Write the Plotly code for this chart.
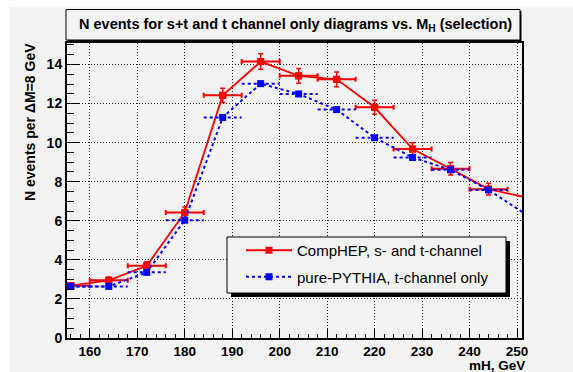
import plotly.graph_objects as go

# ---- data ----
mass = [156, 164, 172, 180, 188, 196, 204, 212, 220, 228, 236, 244, 252]
comphep = [2.68, 2.95, 3.70, 6.42, 12.42, 14.15, 13.42, 13.24, 11.81, 9.67, 8.66, 7.62, 7.19]
comphep_err = [0.15, 0.17, 0.20, 0.28, 0.37, 0.40, 0.38, 0.38, 0.36, 0.33, 0.32, 0.30]
pythia = [2.64, 2.64, 3.36, 6.03, 11.29, 13.02, 12.49, 11.69, 10.25, 9.24, 8.61, 7.58, 6.31]
bin_half = 4  # half of the 8 GeV bin

x_ticks = [160, 170, 180, 190, 200, 210, 220, 230, 240, 250]
y_ticks = [0, 2, 4, 6, 8, 10, 12, 14]

GRAY = "#f2f2f2"
FONT = "Liberation Sans, Arial, Helvetica, sans-serif"
RED = "#ff0000"
BLUE = "#0000ff"

W, H = 573, 372
L, R, T, B = 67, 51, 43, 34
PW, PH = W - L - R, H - T - B


def px(xp):
    return (xp - L) / PW


def py(yp):
    return (H - B - yp) / PH


n_vis = len(comphep_err)

fig = go.Figure()

# red: connecting line + markers (legend entry)
fig.add_trace(go.Scatter(
    x=mass, y=comphep, mode="lines+markers",
    name="CompHEP, s- and t-channel",
    line=dict(color=RED, width=1.8),
    marker=dict(symbol="square", size=7, color=RED),
    legendgroup="a",
))
# red error bars
fig.add_trace(go.Scatter(
    x=mass[:n_vis], y=comphep[:n_vis], mode="markers",
    marker=dict(symbol="square", size=7, color=RED),
    error_x=dict(type="constant", value=bin_half, color=RED, thickness=2, width=2.5),
    error_y=dict(type="data", array=comphep_err, color=RED, thickness=1.5, width=2.5),
    showlegend=False, hoverinfo="skip",
))

# blue horizontal dashed bars
bx, by = [], []
for m, v in zip(mass[:n_vis], pythia[:n_vis]):
    bx += [m - bin_half, m + bin_half, None]
    by += [v, v, None]
fig.add_trace(go.Scatter(
    x=bx, y=by, mode="lines",
    line=dict(color=BLUE, width=2, dash="3px,3px"),
    showlegend=False, hoverinfo="skip",
))
# blue line + markers
fig.add_trace(go.Scatter(
    x=mass, y=pythia, mode="lines+markers",
    name="pure-PYTHIA, t-channel only",
    line=dict(color=BLUE, width=2, dash="3px,3px"),
    marker=dict(symbol="square", size=7, color=BLUE),
    legendgroup="b",
))

shapes = [
    # white outer strips
    dict(type="rect", xref="paper", yref="paper", x0=px(-5), x1=px(W + 5), y0=py(-5), y1=py(7),
         fillcolor="white", line=dict(width=0), layer="below"),
    dict(type="rect", xref="paper", yref="paper", x0=px(-5), x1=px(10), y0=py(-5), y1=py(H + 5),
         fillcolor="white", line=dict(width=0), layer="below"),
    # title box shadow + box
    dict(type="rect", xref="paper", yref="paper", x0=px(67.5), x1=px(521.5), y0=py(41.5), y1=py(11),
         fillcolor="black", line=dict(width=0), layer="above"),
    dict(type="rect", xref="paper", yref="paper", x0=px(66), x1=px(520), y0=py(40), y1=py(9.5),
         fillcolor=GRAY, line=dict(color="black", width=1), layer="above"),
    # legend shadow + box
    dict(type="rect", xref="paper", yref="paper", x0=px(231), x1=px(510), y0=py(297), y1=py(241),
         fillcolor="black", line=dict(width=0), layer="above"),
    dict(type="rect", xref="paper", yref="paper", x0=px(227), x1=px(506), y0=py(293), y1=py(237),
         fillcolor=GRAY, line=dict(color="black", width=1), layer="above"),
]

annotations = [
    dict(text="N events for s+t and t channel only diagrams vs. M<sub>H</sub> (selection)",
         xref="paper", yref="paper", x=px(295), y=py(25), xanchor="center", yanchor="middle",
         showarrow=False, font=dict(family=FONT, size=14.5, color="black", weight="bold")),
    dict(text="N events per \u0394M=8 GeV", xref="paper", yref="paper",
         x=px(30), y=py(122), xanchor="center", yanchor="middle", textangle=-90,
         showarrow=False, font=dict(family=FONT, size=14, color="black", weight="bold")),
    dict(text="mH, GeV", xref="paper", yref="paper",
         x=px(527), y=py(365.5), xanchor="right", yanchor="middle",
         showarrow=False, font=dict(family=FONT, size=13.5, color="black", weight="bold")),
]

fig.update_layout(
    width=W, height=H,
    margin=dict(l=L, r=R, t=T, b=B),
    paper_bgcolor=GRAY, plot_bgcolor=GRAY,
    showlegend=True,
    legend=dict(x=px(241), y=py(234), xanchor="left", yanchor="top",
                bgcolor="rgba(0,0,0,0)", borderwidth=0,
                font=dict(family=FONT, size=15, color="black"),
                tracegroupgap=4, itemwidth=46, traceorder="grouped"),
    shapes=shapes,
    annotations=annotations,
    xaxis=dict(
        range=[155.2, 251.05], tickvals=x_ticks, ticktext=[str(v) for v in x_ticks],
        ticks="inside", ticklen=9, tickwidth=1, tickcolor="black",
        minor=dict(dtick=2, tick0=150, ticks="inside", ticklen=4.5, tickcolor="black", showgrid=False),
        showgrid=True, gridcolor="#222", gridwidth=1, griddash="1px,2px",
        showline=True, linecolor="black", linewidth=2, mirror=True,
        zeroline=False, ticklabelstandoff=0,
        tickfont=dict(family=FONT, size=13.5, color="black", weight="bold"),
    ),
    yaxis=dict(
        range=[0, 15.1], tickvals=y_ticks, ticktext=[str(v) for v in y_ticks],
        ticks="inside", ticklen=13, tickwidth=1, tickcolor="black",
        minor=dict(dtick=0.5, tick0=0, ticks="inside", ticklen=7, tickcolor="black", showgrid=False),
        showgrid=True, gridcolor="#222", gridwidth=1, griddash="1px,2px",
        showline=True, linecolor="black", linewidth=2, mirror=True,
        zeroline=False,
        tickfont=dict(family=FONT, size=14, color="black", weight="bold"),
    ),
)

fig.write_html("out.html", config={"displayModeBar": False},
               post_script="document.body.style.margin='0';document.body.style.padding='0';")
